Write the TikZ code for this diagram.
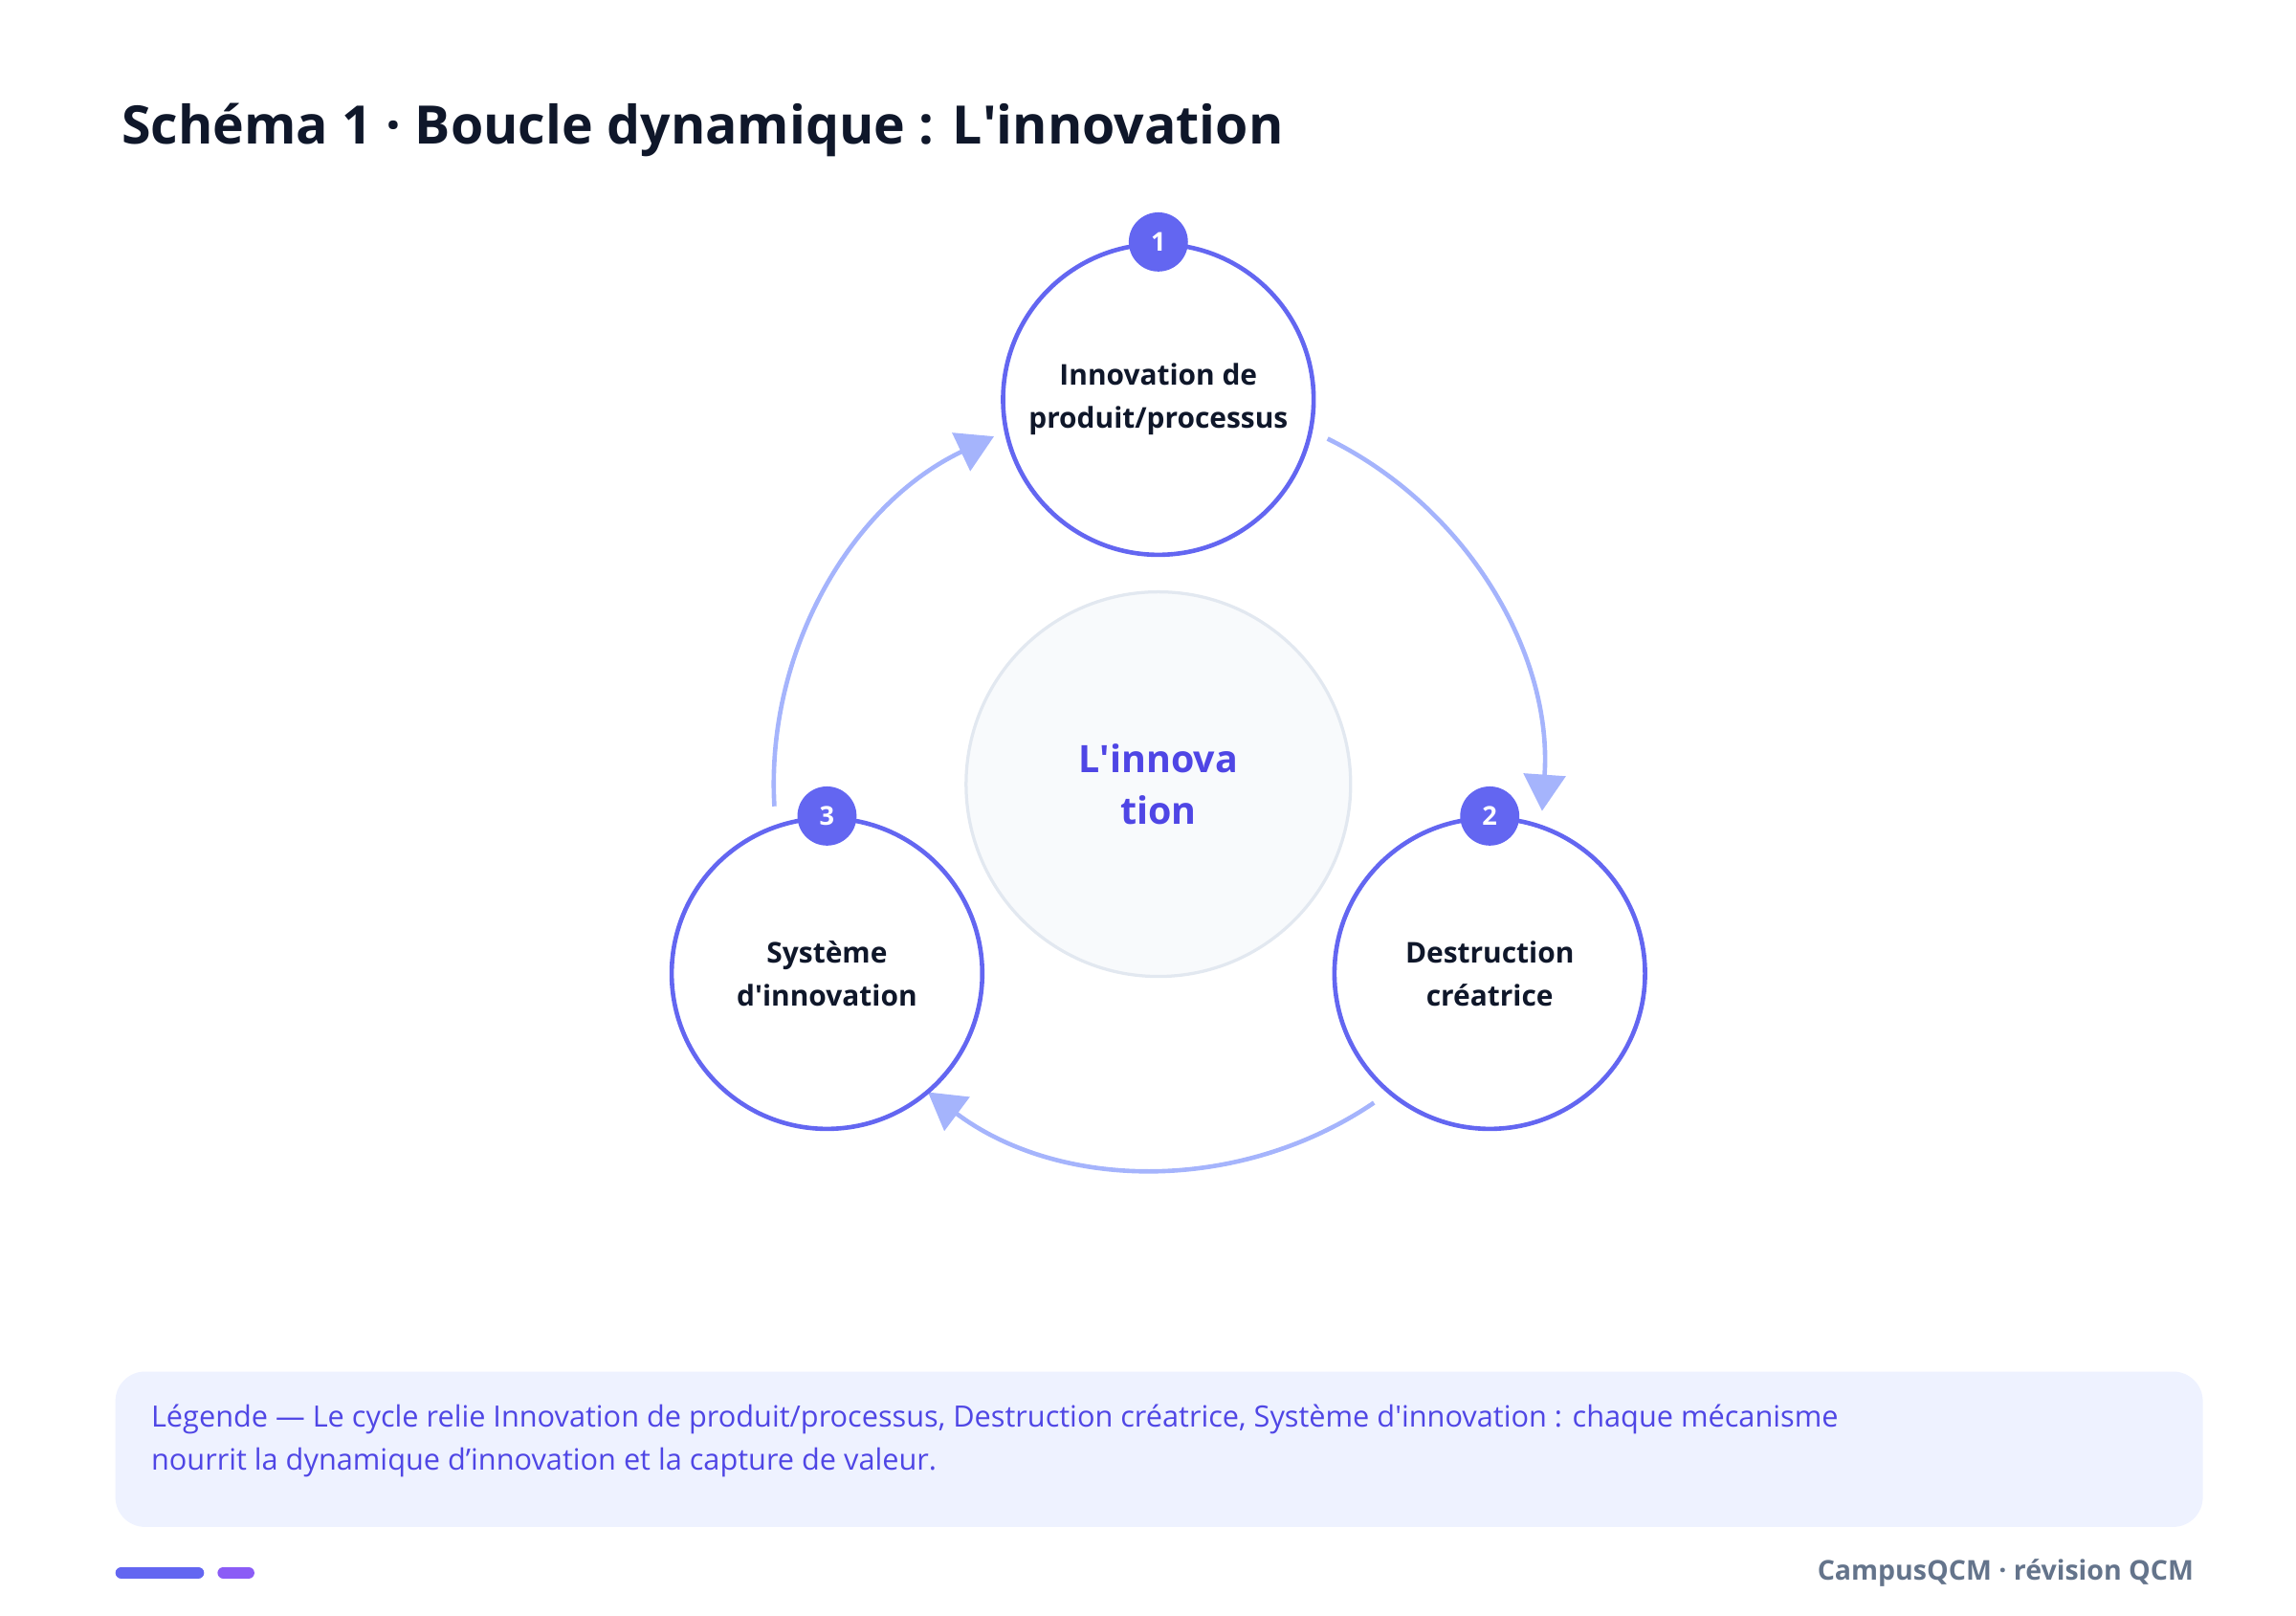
\documentclass[tikz,border=0pt]{standalone}
\usepackage{fontspec}
\setmainfont{Open Sans}[BoldFont={Open Sans Bold}]
\usetikzlibrary{arrows.meta, positioning}
\definecolor{ink}{HTML}{0F172A}
\definecolor{indigo}{HTML}{6366F1}
\definecolor{indigodark}{HTML}{4F46E5}
\definecolor{arcblue}{HTML}{A5B4FC}
\definecolor{legendbg}{HTML}{EEF2FF}
\definecolor{coregray}{HTML}{F8FAFC}
\definecolor{coreline}{HTML}{E2E8F0}
\definecolor{footgray}{HTML}{64748B}
\definecolor{violet}{HTML}{8B5CF6}
\newcommand\apos{\textquotesingle}
\tikzset{
    stage/.style={circle, draw=indigo, line width=1.7pt, fill=white, minimum size=4.2cm,
        align=center, text=ink, font=\fontsize{11}{16.5}\selectfont\bfseries},
    badge/.style={circle, fill=indigo, minimum size=0.8cm, inner sep=0pt,
        text=white, font=\fontsize{10}{12}\selectfont\bfseries},
    loop arc/.style={draw=arcblue, line width=1.7pt,
        -{Triangle[length=14pt, width=16pt]}},
}
\begin{document}
\begin{tikzpicture}[x=0.02cm, y=-0.02cm]
    \useasboundingbox (0,0) rectangle (1552,1092);
    \node[anchor=base west, font=\fontsize{20.4}{24}\selectfont\bfseries, text=ink] (title) at (76,97) {Schéma 1 · Boucle dynamique : L\apos innovation};

    \coordinate (ctr) at (783,530);
    \node[circle, draw=coreline, line width=1.2pt, fill=coregray, minimum size=5.2cm,
        align=center, text=indigodark, font=\fontsize{14.5}{20}\selectfont\bfseries] (core) at (ctr) {L\apos innova\\tion};

    % loop arcs
    \draw[loop arc] ([shift={(-63.9:260)}]ctr) arc (-63.9:4:260);
    \draw[loop arc] ([shift={(55.9:260)}]ctr) arc (55.9:126.8:260);
    \draw[loop arc] ([shift={(176.7:260)}]ctr) arc (176.7:244.7:260);

    \node[stage] (s1) at (783,270) {Innovation de\\produit/processus};
    \node[stage] (s2) at (1007,658) {Destruction\\créatrice};
    \node[stage] (s3) at (559,658) {Système\\d\apos innovation};
    \node[badge] (b1) at (s1.north) {1};
    \node[badge] (b2) at (s2.north) {2};
    \node[badge] (b3) at (s3.north) {3};

    % legend
    \draw[fill=legendbg, draw=none, rounded corners=0.4cm] (78,927) rectangle (1489,1032);
    \node[anchor=north west, align=left, text=indigodark, font=\fontsize{11.3}{16.5}\selectfont] (legend) at (96,943)
        {Légende — Le cycle relie Innovation de produit/processus, Destruction créatrice, Système d\apos innovation : chaque mécanisme\\nourrit la dynamique d’innovation et la capture de valeur.};

    \draw[indigo, line width=4.5pt, line cap=round] (82,1063) -- (134,1063);
    \draw[violet, line width=4.5pt, line cap=round] (151,1063) -- (168,1063);
    \node[anchor=east, text=footgray, font=\fontsize{10.5}{13}\selectfont\bfseries] (foot) at (1489,1063) {CampusQCM · révision QCM};
\end{tikzpicture}
\end{document}
